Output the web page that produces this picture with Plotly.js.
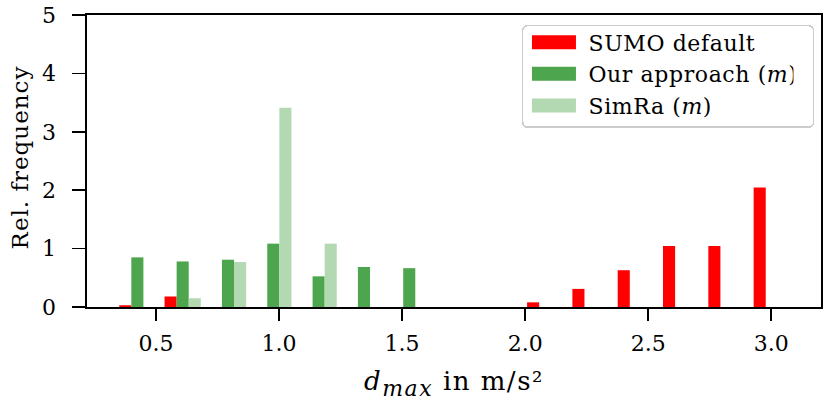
<!DOCTYPE html>
<html><head><meta charset="utf-8">
<script src="https://cdn.plot.ly/plotly-3.0.1.min.js"></script>
<style>
body{margin:0;background:#fff}
#chart .legendtext{letter-spacing:0.6px}
#chart .xtitle{letter-spacing:1.5px}
#chart .ytitle{letter-spacing:1px}
</style>
</head><body>
<div id="chart" style="width:830px;height:404px"></div>
<script>
// histogram bin centres of d_max (m/s^2)
const binCenters = [0.4246, 0.6087, 0.7928, 0.9769, 1.1610, 1.3451, 1.5292, 1.7133, 1.8974, 2.0815, 2.2656, 2.4497, 2.6338, 2.8179, 3.0020];
// relative frequency (density) per bin
const sumoDefault = [0.03, 0.18, 0, 0, 0, 0, 0, 0, 0, 0.08, 0.31, 0.63, 1.045, 1.045, 2.045];
const ourApproach = [0.85, 0.78, 0.81, 1.085, 0.525, 0.685, 0.665, 0, 0, 0, 0, 0, 0, 0, 0];
const simRa       = [0, 0.15, 0.77, 3.41, 1.085, 0, 0, 0, 0, 0, 0, 0, 0, 0, 0];
const seriesNames = ['SUMO default', 'Our approach (<i>m</i>)', 'SimRa (<i>m</i>)'];
const seriesColors = ['#ff0000', '#4da64d', '#b3d9b3'];
const xTickVals = [0.5, 1.0, 1.5, 2.0, 2.5, 3.0];
const xTickText = ['0.5', '1.0', '1.5', '2.0', '2.5', '3.0'];
const yTickVals = [0, 1, 2, 3, 4, 5];

const FONT = 'DejaVu Serif, Liberation Serif, serif';
const series = [sumoDefault, ourApproach, simRa];
const traces = series.map((vals, i) => ({
  type: 'bar', x: binCenters, y: vals, name: seriesNames[i],
  marker: {color: seriesColors[i], line: {width: 0}}
}));

const axisCommon = {
  showline: true, linecolor: '#000', linewidth: 1.7, mirror: true,
  ticks: 'outside', tickwidth: 1.7, tickcolor: '#000',
  showgrid: false, zeroline: false,
  tickfont: {family: FONT, size: 22, color: '#000'}
};

const layout = {
  width: 830, height: 404,
  margin: {l: 87, r: 9, t: 15, b: 97},
  paper_bgcolor: '#fff', plot_bgcolor: '#fff',
  barmode: 'group', bargap: 0.2, bargroupgap: 0,
  font: {family: FONT, size: 22, color: '#000'},
  xaxis: Object.assign({}, axisCommon, {
    range: [0.22, 3.202], tickvals: xTickVals, ticktext: xTickText,
    ticklen: 12, ticklabelstandoff: 4,
    title: {text: '<i>d</i><sub><i><span style="font-size:22px">max</span></i></sub> in m/s²',
            font: {family: FONT, size: 26, color: '#000'}, standoff: 17}
  }),
  yaxis: Object.assign({}, axisCommon, {
    range: [0, 5], tickvals: yTickVals, ticktext: yTickVals.map(String),
    ticklen: 13, ticklabelstandoff: 12,
    title: {text: 'Rel. frequency', font: {family: FONT, size: 23, color: '#000'}, standoff: 8}
  }),
  showlegend: true,
  legend: {
    x: 0.5926, y: 0.983, xanchor: 'left', yanchor: 'top',
    bgcolor: 'rgba(255,255,255,0.8)', bordercolor: '#cccccc', borderwidth: 1.5,
    font: {family: FONT, size: 22, color: '#000'},
    tracegroupgap: 0, itemwidth: 55
  }
};

Plotly.newPlot('chart', traces, layout, {staticPlot: true, displayModeBar: false}).then(gd => {
  gd.querySelectorAll('.legend .legendpoints path').forEach(p => {
    p.setAttribute('d', 'M-24,-7H20V7H-24Z');
  });
  const bg = gd.querySelector('.legend rect.bg');
  if (bg) {
    const y = parseFloat(bg.getAttribute('y') || 0);
    const h = parseFloat(bg.getAttribute('height') || 0);
    bg.setAttribute('y', y + 5);
    bg.setAttribute('height', h - 5);
    bg.setAttribute('width', 291);
    bg.setAttribute('rx', 5);
    bg.setAttribute('ry', 5);
  }
  const yt = gd.querySelector('.g-ytitle');
  if (yt) {
    const host = gd.getBoundingClientRect();
    const r = yt.getBoundingClientRect();
    const cx = r.left - host.left + r.width / 2;
    const cy = r.top - host.top + r.height / 2;
    yt.setAttribute('transform', `translate(${20 - cx},${157.5 - cy})`);
  }
});
</script>
</body></html>
